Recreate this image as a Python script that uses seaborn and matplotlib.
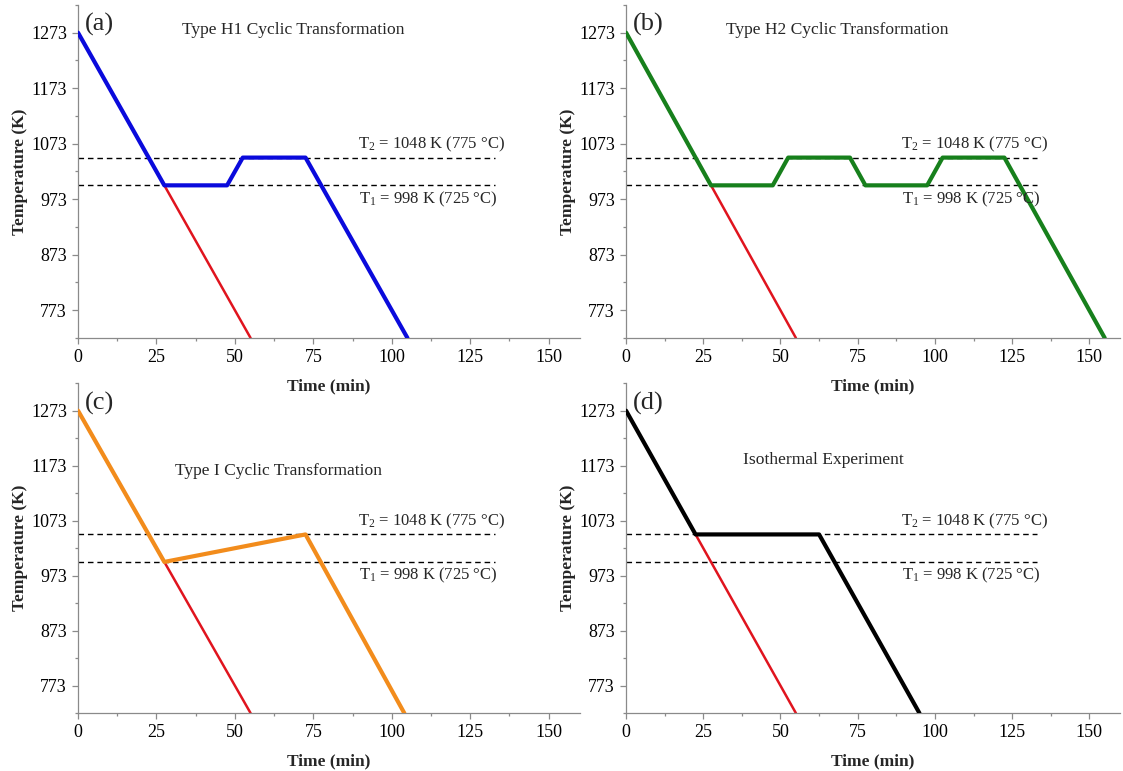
import matplotlib
matplotlib.use("Agg")
import matplotlib.pyplot as plt
from matplotlib.ticker import AutoMinorLocator
import pandas as pd
import seaborn as sns

# Heat-treatment schedules (time in min, temperature in K)
direct_time = [0, 55]
direct_temp = [1273, 723]

h1_time = [0, 27.5, 47.5, 52.5, 72.5, 105]
h1_temp = [1273, 998, 998, 1048, 1048, 723]

h2_time = [0, 27.5, 47.5, 52.5, 72.5, 77.5, 97.5, 102.5, 122.5, 155]
h2_temp = [1273, 998, 998, 1048, 1048, 998, 998, 1048, 1048, 723]

type1_time = [0, 27.5, 72.5, 104]
type1_temp = [1273, 998, 1048, 723]

iso_time = [0, 22.5, 62.5, 95]
iso_temp = [1273, 1048, 1048, 723]

T1, T2 = 998, 1048
panel_labels = ["(a)", "(b)", "(c)", "(d)"]
panel_titles = ["Type H1 Cyclic Transformation", "Type H2 Cyclic Transformation",
                "Type I Cyclic Transformation", "Isothermal Experiment"]
y_ticks = [773, 873, 973, 1073, 1173, 1273]
x_ticks = [0, 25, 50, 75, 100, 125, 150]

sns.set_style("ticks")
plt.rcParams["font.family"] = ["Liberation Serif", "DejaVu Serif"]
plt.rcParams["mathtext.fontset"] = "custom"
plt.rcParams["mathtext.rm"] = "Liberation Serif"
plt.rcParams["mathtext.it"] = "Liberation Serif:italic"
plt.rcParams["mathtext.bf"] = "Liberation Serif:bold"

fig = plt.figure(figsize=(11.23, 7.71), dpi=100)
boxes = [
    [0.0695, 0.5616, 0.447, 0.432],
    [0.5575, 0.5616, 0.44, 0.432],
    [0.0695, 0.075, 0.447, 0.428],
    [0.5575, 0.075, 0.44, 0.428],
]
series = [
    (h1_time, h1_temp, "#0a0adc"),
    (h2_time, h2_temp, "#17801c"),
    (type1_time, type1_temp, "#f28c1c"),
    (iso_time, iso_temp, "#000000"),
]
title_pos = [(68.5, 1278), (68.3, 1278), (64, 1163), (64, 1183)]

spine_col = "#8a8a8a"
for i, box in enumerate(boxes):
    ax = fig.add_axes(box)
    # transparent background so the upper panels' x labels stay visible
    ax.patch.set_visible(False)
    t, T, col = series[i]
    ref = pd.DataFrame({"t": direct_time, "T": direct_temp})
    sched = pd.DataFrame({"t": t, "T": T})
    # Continuous cooling reference line
    sns.lineplot(data=ref, x="t", y="T", ax=ax, color="#e0141e", lw=1.8,
                 sort=False, estimator=None, zorder=2)
    # Threshold temperatures
    for lvl in (T1, T2):
        ax.plot([0, 133], [lvl, lvl], color="black", lw=1.0,
                dashes=(4, 2.8), zorder=1)
    sns.lineplot(data=sched, x="t", y="T", ax=ax, color=col, lw=3.0,
                 sort=False, estimator=None, zorder=3)

    ax.text(112.7, T2 + 23, r"T$_2$ = 1048 K (775 °C)", ha="center",
            va="center", fontsize=12)
    ax.text(111.7, T1 - 25, r"T$_1$ = 998 K (725 °C)", ha="center",
            va="center", fontsize=12)
    ax.text(title_pos[i][0], title_pos[i][1], panel_titles[i], ha="center",
            va="center", fontsize=12.6)
    ax.text(2.3, 1287, panel_labels[i], ha="left", va="center", fontsize=19)

    ax.set_xlim(0, 160)
    ax.set_ylim(723, 1323)
    ax.set_xticks(x_ticks)
    ax.set_yticks(y_ticks)
    ax.xaxis.set_minor_locator(AutoMinorLocator(2))
    ax.yaxis.set_minor_locator(AutoMinorLocator(2))
    ax.tick_params(which="both", direction="out", colors=spine_col,
                   labelcolor="black", labelsize=13, width=0.9)
    ax.tick_params(which="major", length=4.5)
    ax.tick_params(which="minor", length=2.5)
    sns.despine(ax=ax)
    for s in ("left", "bottom"):
        ax.spines[s].set_color(spine_col)
        ax.spines[s].set_linewidth(0.9)
    ax.set_xlabel("Time (min)", fontsize=12.5, fontweight="bold", labelpad=9)
    ax.set_ylabel("Temperature (K)", fontsize=12.5, fontweight="bold", labelpad=2)

fig.savefig("out.png", dpi=100)
